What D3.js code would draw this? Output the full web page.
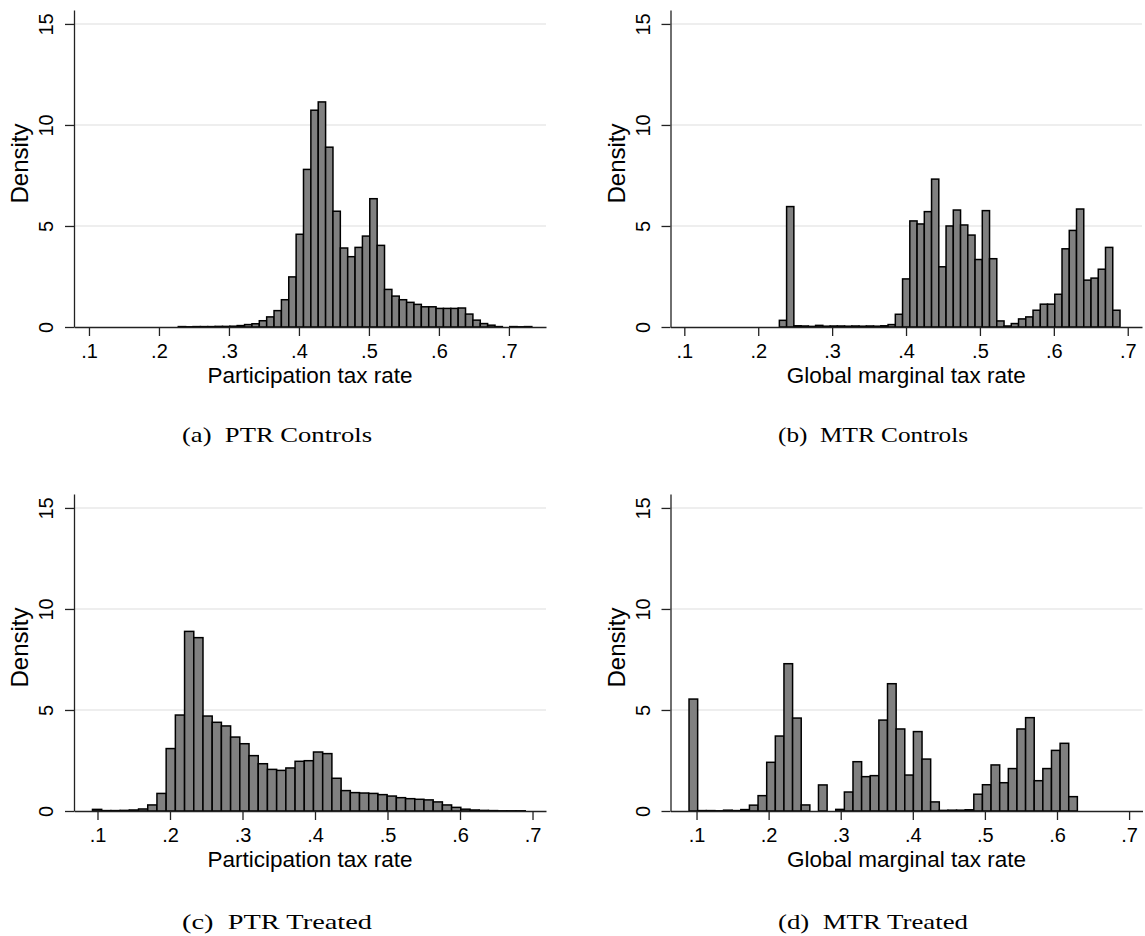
<!DOCTYPE html>
<html><head><meta charset="utf-8">
<script src="https://cdn.jsdelivr.net/npm/d3@7"></script>
<style>body{margin:0;background:#fff}</style>
</head><body>
<svg id="chart" width="1145" height="936"></svg>
<script>
// ---------------- data ----------------
const xTicks = [0.1, 0.2, 0.3, 0.4, 0.5, 0.6, 0.7];
const xTickLabels = [".1", ".2", ".3", ".4", ".5", ".6", ".7"];
const yTicks = [0, 5, 10, 15];
const yTickLabels = ["0", "5", "10", "15"];
const yTitle = "Density";
const xTitles = ["Participation tax rate", "Global marginal tax rate", "Participation tax rate", "Global marginal tax rate"];
const captions = ["(a)\u2002PTR Controls", "(b)\u2002MTR Controls", "(c)\u2002PTR Treated", "(d)\u2002MTR Treated"];

// histogram bins: [first bin start, bin width], densities per bin
const ptrControlsBins = [0.2276, 0.010524];
const ptrControls = [0.02,0.01,0.02,0.02,0.02,0.03,0.03,0.04,0.07,0.12,0.16,0.31,0.5,0.81,1.35,2.48,
  4.59,7.8,10.73,11.14,8.9,5.73,3.91,3.48,3.94,4.5,6.35,4.04,1.86,1.53,1.35,1.22,1.12,1.0,1.0,
  0.92,0.92,0.92,0.94,0.64,0.34,0.17,0.09,0.02,0,0.02,0.01,0.02];

const mtrControlsBins = [0.2286, 0.009807];
const mtrControls = [0.33,5.96,0.06,0.05,0.03,0.08,0.04,0.05,0.05,0.04,0.05,0.04,0.05,0.04,0.06,0.12,
  0.63,2.38,5.25,5.1,5.71,7.32,2.98,5.0,5.79,5.05,4.55,3.34,5.76,3.38,0.3,0.05,0.17,0.4,0.5,0.83,
  1.13,1.13,1.62,3.87,4.78,5.84,2.32,2.42,2.86,3.94,0.83];

const ptrTreatedBins = [0.0931, 0.0127];
const ptrTreated = [0.08,0.02,0.02,0.03,0.05,0.1,0.3,0.87,3.09,4.75,8.89,8.58,4.70,4.39,4.21,3.66,
  3.33,2.74,2.34,2.06,2.01,2.13,2.46,2.49,2.92,2.84,1.62,1.01,0.91,0.89,0.87,0.81,0.74,0.66,0.61,
  0.58,0.55,0.45,0.3,0.18,0.09,0.05,0.03,0.02,0.01,0.01,0.01];

const mtrTreatedBins = [0.0896, 0.01197];
const mtrTreated = [5.54,0.02,0.02,0.01,0.04,0.02,0.07,0.29,0.76,2.41,3.71,7.29,4.60,0.3,0,1.29,0,
  0.08,0.94,2.44,1.70,1.75,4.50,6.30,4.06,1.78,3.93,2.57,0.45,0.03,0.04,0.04,0.06,0.83,1.30,2.28,
  1.40,2.10,4.06,4.62,1.50,2.10,3.00,3.35,0.71];

// ---------------- layout ----------------
const panels = [
  {values: ptrControls, bins: ptrControlsBins, left: 74, right: 546, base: 327, top: 10, xdom: [0.0786, 0.753], capX: 277, capY: 442},
  {values: mtrControls, bins: mtrControlsBins, left: 670.5, right: 1142, base: 327, top: 10, xdom: [0.0813, 0.7193], capX: 873, capY: 442},
  {values: ptrTreated, bins: ptrTreatedBins, left: 74, right: 546, base: 811, top: 494, xdom: [0.0676, 0.7186], capX: 277, capY: 929},
  {values: mtrTreated, bins: mtrTreatedBins, left: 670.5, right: 1142.5, base: 811, top: 494, xdom: [0.0639, 0.7186], capX: 873, capY: 929}
];
const yMax = 15.69;
const sans = "'Liberation Sans', Arial, Helvetica, sans-serif";
const serif = "'Liberation Serif', 'Times New Roman', serif";

const svg = d3.select("#chart");

panels.forEach((p, pi) => {
  const x = d3.scaleLinear().domain(p.xdom).range([p.left, p.right]);
  const y = d3.scaleLinear().domain([0, yMax]).range([p.base, p.top]);
  const g = svg.append("g");

  // gridlines
  g.selectAll("line.grid").data(yTicks.filter(t => t > 0)).join("line")
    .attr("x1", p.left).attr("x2", p.right)
    .attr("y1", d => y(d)).attr("y2", d => y(d))
    .attr("stroke", "#e8e8e8").attr("stroke-width", 1.6);

  // bars
  const [start, w] = p.bins;
  const bars = p.values.map((v, i) => ({x0: start + i * w, x1: start + (i + 1) * w, v}));
  g.selectAll("rect.bar").data(bars.filter(b => b.v > 0)).join("rect")
    .attr("x", d => x(d.x0))
    .attr("width", d => x(d.x1) - x(d.x0))
    .attr("y", d => y(d.v))
    .attr("height", d => p.base - y(d.v))
    .attr("fill", "#808080")
    .attr("stroke", "#000")
    .attr("stroke-width", 1.5);

  // x axis
  const xAxis = d3.axisBottom(x).tickValues(xTicks)
    .tickFormat((d, i) => xTickLabels[i]).tickSize(9).tickSizeOuter(0).tickPadding(8);
  const gx = g.append("g").attr("transform", `translate(0,${p.base})`).call(xAxis);
  gx.select(".domain").attr("stroke", "#222").attr("stroke-width", 1.3);
  gx.selectAll(".tick line").attr("stroke", "#222").attr("stroke-width", 1.3);
  gx.selectAll(".tick text").attr("font-family", sans).attr("font-size", 20).attr("fill", "#000");

  // y axis
  const yAxis = d3.axisLeft(y).tickValues(yTicks)
    .tickFormat((d, i) => yTickLabels[i]).tickSize(9).tickSizeOuter(0);
  const gy = g.append("g").attr("transform", `translate(${p.left},0)`).call(yAxis);
  gy.select(".domain").attr("stroke", "#222").attr("stroke-width", 1.3);
  gy.selectAll(".tick line").attr("stroke", "#222").attr("stroke-width", 1.3);
  gy.selectAll(".tick text")
    .attr("font-family", sans).attr("font-size", 20).attr("fill", "#000")
    .attr("x", 0).attr("dy", 0).attr("text-anchor", "middle")
    .attr("transform", "translate(-21,0) rotate(-90)");

  // axis titles
  g.append("text")
    .attr("x", (p.left + p.right) / 2).attr("y", p.base + 56)
    .attr("text-anchor", "middle").attr("font-family", sans).attr("font-size", 22.5)
    .text(xTitles[pi]);
  const yc = (p.top + p.base) / 2 - 5;
  g.append("text")
    .attr("transform", `translate(${p.left - 46},${yc}) rotate(-90)`)
    .attr("text-anchor", "middle").attr("font-family", sans).attr("font-size", 24)
    .text(yTitle);

  // caption
  g.append("text")
    .attr("x", p.capX).attr("y", p.capY)
    .attr("text-anchor", "middle").attr("font-family", serif).attr("font-size", 22)
    .attr("textLength", 190).attr("lengthAdjust", "spacingAndGlyphs")
    .text(captions[pi]);
});
</script>
</body></html>
